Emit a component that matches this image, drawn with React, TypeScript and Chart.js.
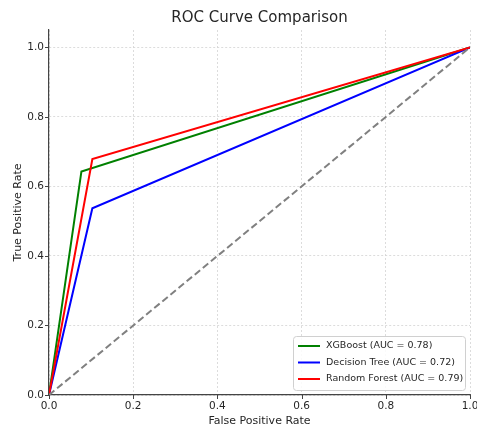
import React, { useEffect, useRef } from "react";
import { Chart, registerables } from "chart.js";

Chart.register(...registerables);

// ---- data ----
const xgbFpr = [0, 0.077, 1];
const xgbTpr = [0, 0.643, 1];
const dtFpr = [0, 0.103, 1];
const dtTpr = [0, 0.537, 1];
const rfFpr = [0, 0.103, 1];
const rfTpr = [0, 0.679, 1];
const chanceFpr = [0, 1];
const chanceTpr = [0, 1];
const seriesLabels = [
  "XGBoost (AUC = 0.78)",
  "Decision Tree (AUC = 0.72)",
  "Random Forest (AUC = 0.79)",
];
const seriesColors = ["#008000", "#0000ff", "#ff0000"];
const xTickValues = [0, 0.2, 0.4, 0.6, 0.8, 1.0];
const yTickValues = [0, 0.2, 0.4, 0.6, 0.8, 1.0];
const titleText = "ROC Curve Comparison";
const xTitle = "False Positive Rate";
const yTitle = "True Positive Rate";

const FONT = "'DejaVu Sans', sans-serif";
const TEXT = "#262626";
const SPINE = "#444444";

const toPts = (xs: number[], ys: number[]) => xs.map((x, i) => ({ x, y: ys[i] }));

const decorPlugin = {
  id: "decor",
  afterDraw(chart: any) {
    const { ctx, chartArea } = chart;
    const { left, right, top, bottom } = chartArea;
    const xs = chart.scales.x;
    const ys = chart.scales.y;
    ctx.save();
    // tick marks
    ctx.strokeStyle = SPINE;
    ctx.lineWidth = 1;
    xTickValues.forEach((v) => {
      const px = Math.round(xs.getPixelForValue(v)) + 0.5;
      ctx.beginPath();
      ctx.moveTo(px, bottom);
      ctx.lineTo(px, bottom + 4);
      ctx.stroke();
    });
    yTickValues.forEach((v) => {
      const py = Math.round(ys.getPixelForValue(v)) + 0.5;
      ctx.beginPath();
      ctx.moveTo(left, py);
      ctx.lineTo(left - 4, py);
      ctx.stroke();
    });
    // title
    ctx.fillStyle = TEXT;
    ctx.textAlign = "center";
    ctx.textBaseline = "middle";
    ctx.font = `15px ${FONT}`;
    ctx.fillText(titleText, (left + right) / 2, 18);
    // axis titles
    ctx.font = `11px ${FONT}`;
    ctx.fillText(xTitle, (left + right) / 2, 421);
    ctx.save();
    ctx.translate(18, (top + bottom) / 2);
    ctx.rotate(-Math.PI / 2);
    ctx.fillText(yTitle, 0, 0);
    ctx.restore();
    // legend
    const bx = 293.5, by = 336.5, bw = 172, bh = 54, r = 3;
    ctx.beginPath();
    ctx.moveTo(bx + r, by);
    ctx.lineTo(bx + bw - r, by);
    ctx.quadraticCurveTo(bx + bw, by, bx + bw, by + r);
    ctx.lineTo(bx + bw, by + bh - r);
    ctx.quadraticCurveTo(bx + bw, by + bh, bx + bw - r, by + bh);
    ctx.lineTo(bx + r, by + bh);
    ctx.quadraticCurveTo(bx, by + bh, bx, by + bh - r);
    ctx.lineTo(bx, by + r);
    ctx.quadraticCurveTo(bx, by, bx + r, by);
    ctx.closePath();
    ctx.fillStyle = "rgba(255,255,255,0.85)";
    ctx.fill();
    ctx.strokeStyle = "#d0d0d0";
    ctx.lineWidth = 1;
    ctx.stroke();
    ctx.font = `9.5px ${FONT}`;
    ctx.textAlign = "left";
    ctx.textBaseline = "middle";
    seriesLabels.forEach((lab, i) => {
      const ry = 346 + i * 16.5;
      ctx.strokeStyle = seriesColors[i];
      ctx.lineWidth = 2;
      ctx.beginPath();
      ctx.moveTo(298, ry);
      ctx.lineTo(320, ry);
      ctx.stroke();
      ctx.fillStyle = TEXT;
      ctx.fillText(lab, 326, ry);
    });
    ctx.restore();
  },
};

export default function App() {
  const ref = useRef<HTMLCanvasElement | null>(null);
  useEffect(() => {
    if (!ref.current) return;
    const line = (data: any, color: string, order: number, label: string, dash?: number[]) => ({
      label,
      data,
      showLine: true,
      borderColor: color,
      backgroundColor: color,
      borderWidth: 2,
      borderDash: dash || [],
      pointRadius: 0,
      fill: false,
      tension: 0,
      order,
    });
    const chart = new Chart(ref.current, {
      type: "scatter",
      data: {
        datasets: [
          line(toPts(xgbFpr, xgbTpr), seriesColors[0], 3, seriesLabels[0]),
          line(toPts(dtFpr, dtTpr), seriesColors[1], 2, seriesLabels[1]),
          line(toPts(rfFpr, rfTpr), seriesColors[2], 1, seriesLabels[2]),
          line(toPts(chanceFpr, chanceTpr), "#808080", 0, "Chance", [7, 3.5]),
        ],
      },
      options: {
        animation: false,
        responsive: false,
        layout: { padding: { left: 0, right: 7, top: 30, bottom: 0 } },
        plugins: {
          legend: { display: false },
          title: { display: false },
          tooltip: { enabled: false },
        },
        scales: {
          x: {
            type: "linear",
            min: 0,
            max: 1,
            afterBuildTicks: (s: any) => {
              s.ticks = xTickValues.map((v) => ({ value: v }));
            },
            afterFit: (s: any) => {
              s.height = 34;
              s.paddingLeft = 0;
              s.paddingRight = 0;
            },
            ticks: {
              callback: (v: any) => Number(v).toFixed(1),
              font: { family: FONT, size: 10.5 },
              color: TEXT,
              padding: 5,
              maxRotation: 0,
              autoSkip: false,
            },
            grid: { color: "#d4d4d4", lineWidth: 0.8, drawTicks: false },
            border: { display: true, color: SPINE, width: 1.2, dash: [2, 2] },
          },
          y: {
            type: "linear",
            min: 0,
            max: 1.05,
            afterBuildTicks: (s: any) => {
              s.ticks = yTickValues.map((v) => ({ value: v }));
            },
            afterFit: (s: any) => {
              s.width = 49;
              s.paddingTop = 0;
              s.paddingBottom = 0;
            },
            ticks: {
              callback: (v: any) => Number(v).toFixed(1),
              font: { family: FONT, size: 10.5 },
              color: TEXT,
              padding: 5,
              autoSkip: false,
            },
            grid: { color: "#d4d4d4", lineWidth: 0.8, drawTicks: false },
            border: { display: true, color: SPINE, width: 1.2, dash: [2, 2] },
          },
        },
      } as any,
      plugins: [decorPlugin],
    });
    return () => chart.destroy();
  }, []);
  return (
    <div style={{ position: "fixed", left: 0, top: 0, width: 477, height: 429, background: "#fff" }}>
      <canvas ref={ref} width={477} height={429} style={{ display: "block" }} />
    </div>
  );
}
